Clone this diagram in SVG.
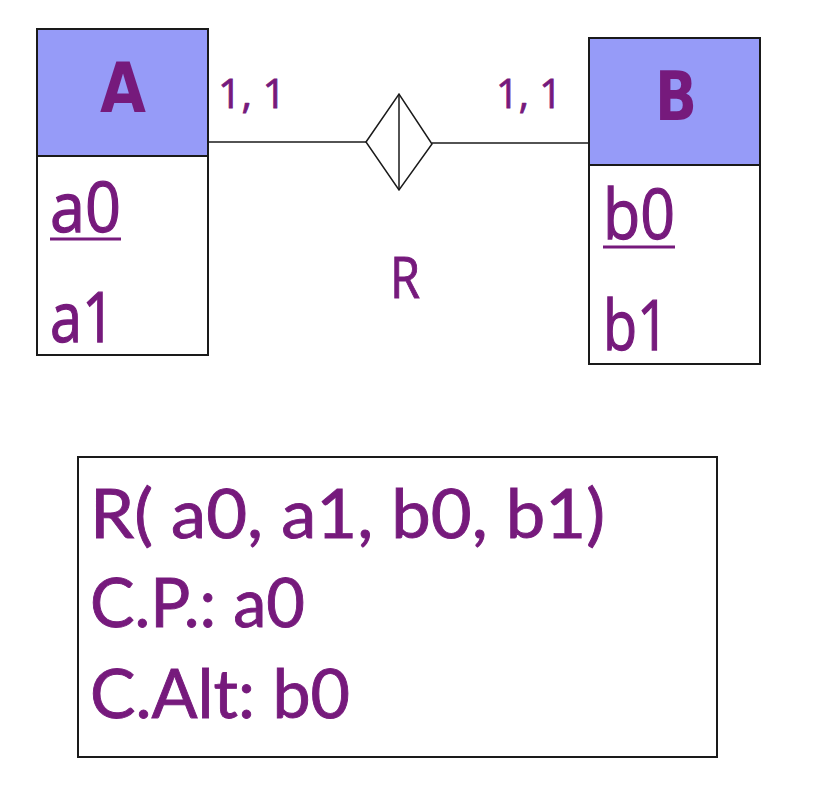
<svg xmlns="http://www.w3.org/2000/svg" width="816" height="806" viewBox="0 0 816 806">
<style>
.box{fill:#ffffff;stroke:#1a1a1a;stroke-width:2}
.hdr{fill:#969BF8;stroke:#1a1a1a;stroke-width:2}
.t{font-family:"Open Sans","DejaVu Sans",sans-serif;fill:#761A7C;stroke:#761A7C;stroke-width:1.3}
.tb{font-family:"DejaVu Sans",Verdana,sans-serif;font-weight:bold;fill:#761A7C}
.b{font-family:"Lato","Open Sans",sans-serif;fill:#761A7C;stroke:#761A7C;stroke-width:0.9}
.ln{stroke:#1a1a1a;stroke-width:1.5;fill:none}
.ul{stroke:#761A7C;stroke-width:3}
</style>
<rect width="816" height="806" fill="#ffffff"/>
<g id="connectors">
<line class="ln" x1="208" y1="142" x2="366" y2="142"/>
<line class="ln" x1="432" y1="143" x2="589" y2="143"/>
<text class="t" x="218" y="108" font-size="41" textLength="68" lengthAdjust="spacingAndGlyphs" style="stroke-width:0.8">1, 1</text>
<text class="t" x="496" y="108" font-size="41" textLength="66" lengthAdjust="spacingAndGlyphs" style="stroke-width:0.8">1, 1</text>
</g>
<g id="R">
<polygon class="ln" points="366,142 399,94 432,144 399,190"/>
<line class="ln" x1="399" y1="94" x2="399" y2="190"/>
<text class="t" x="390" y="298" font-size="57" textLength="30" lengthAdjust="spacingAndGlyphs" style="stroke-width:1">R</text>
</g>
<g id="A">
<rect class="box" x="37" y="29" width="171" height="326"/>
<rect class="hdr" x="37" y="29" width="171" height="127"/>
<text class="tb" x="100" y="112" font-size="70" textLength="46" lengthAdjust="spacingAndGlyphs">A</text>
<text class="t" x="50" y="232" font-size="70" textLength="71" lengthAdjust="spacingAndGlyphs">a0</text>
<line class="ul" x1="50" y1="239" x2="121" y2="239"/>
<text class="t" x="50" y="342" font-size="70" textLength="65" lengthAdjust="spacingAndGlyphs">a1</text>
</g>
<g id="B">
<rect class="box" x="589" y="38" width="171" height="326"/>
<rect class="hdr" x="589" y="38" width="171" height="127"/>
<text class="tb" x="655" y="120" font-size="68" textLength="42" lengthAdjust="spacingAndGlyphs">B</text>
<text class="t" x="603" y="239" font-size="70" textLength="72" lengthAdjust="spacingAndGlyphs">b0</text>
<line class="ul" x1="603" y1="247" x2="675" y2="247"/>
<text class="t" x="603" y="350" font-size="70" textLength="66" lengthAdjust="spacingAndGlyphs">b1</text>
</g>
<g id="schema">
<rect class="box" x="78" y="457" width="639" height="300"/>
<text class="b" x="90" y="538" font-size="67" textLength="515" lengthAdjust="spacingAndGlyphs">R( a0, a1, b0, b1)</text>
<text class="b" x="90" y="627" font-size="67" textLength="215" lengthAdjust="spacingAndGlyphs">C.P.: a0</text>
<text class="b" x="90" y="718" font-size="67" textLength="260" lengthAdjust="spacingAndGlyphs">C.Alt: b0</text>
</g>
</svg>
